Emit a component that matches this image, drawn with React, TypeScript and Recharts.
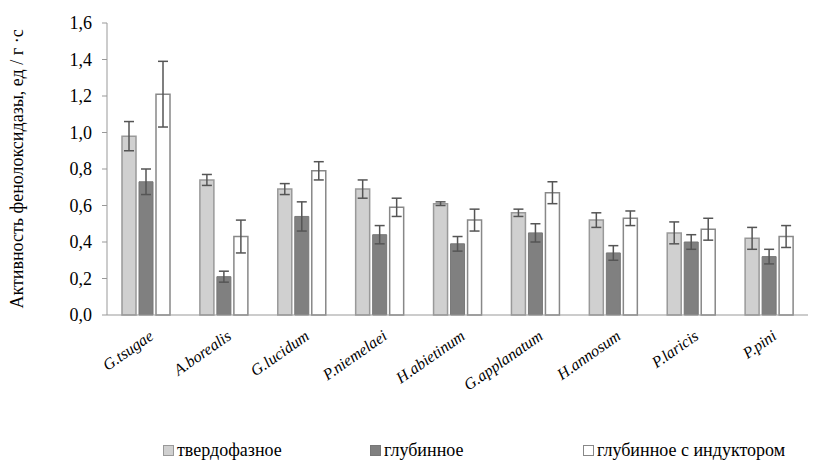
import { BarChart, Bar, XAxis, YAxis, ErrorBar, Legend, Label } from 'recharts';

const species = ['G.tsugae', 'A.borealis', 'G.lucidum', 'P.niemelaei', 'H.abietinum', 'G.applanatum', 'H.annosum', 'P.laricis', 'P.pini'];
const solid = [0.98, 0.74, 0.69, 0.69, 0.61, 0.56, 0.52, 0.45, 0.42];
const solidErr = [0.08, 0.03, 0.03, 0.05, 0.01, 0.02, 0.04, 0.06, 0.06];
const deep = [0.73, 0.21, 0.54, 0.44, 0.39, 0.45, 0.34, 0.4, 0.32];
const deepErr = [0.07, 0.03, 0.08, 0.05, 0.04, 0.05, 0.04, 0.04, 0.04];
const induced = [1.21, 0.43, 0.79, 0.59, 0.52, 0.67, 0.53, 0.47, 0.43];
const inducedErr = [0.18, 0.09, 0.05, 0.05, 0.06, 0.06, 0.04, 0.06, 0.06];
const yTicks = [0, 0.2, 0.4, 0.6, 0.8, 1.0, 1.2, 1.4, 1.6];

const seriesNames = ['твердофазное', 'глубинное', 'глубинное с индуктором'];

const data = species.map((name, i) => ({
  name,
  solid: solid[i],
  solidErr: solidErr[i],
  deep: deep[i],
  deepErr: deepErr[i],
  induced: induced[i],
  inducedErr: inducedErr[i],
}));

const font = 'Liberation Serif';

const legendItems = [
  { label: seriesNames[0], fill: '#d0d0d0', stroke: '#999', left: 163 },
  { label: seriesNames[1], fill: '#808080', stroke: '#777', left: 370 },
  { label: seriesNames[2], fill: '#fff', stroke: '#888', left: 583 },
];

const LegendBox = () => (
  <div style={{ position: 'relative', height: 36, fontFamily: font, fontSize: 18, color: '#000' }}>
    {legendItems.map((it, i) => (
      <div key={i} style={{ position: 'absolute', left: it.left, top: 17, display: 'flex', alignItems: 'center', whiteSpace: 'nowrap' }}>
        <span style={{ width: 9, height: 9, background: it.fill, border: `1px solid ${it.stroke}`, marginRight: 3, display: 'inline-block' }} />
        <span>{it.label}</span>
      </div>
    ))}
  </div>
);

const App = () => {
  return (
    <div>
      <style>{'body{margin:0;background:#fff}'}</style>
      <BarChart width={815} height={463} data={data} margin={{ top: 23, right: 7, left: 40, bottom: 4 }} barSize={14} barGap={3}>
        <XAxis
          dataKey="name"
          interval={0}
          tickLine={false}
          axisLine={{ stroke: '#999' }}
          height={108}
          angle={-35}
          textAnchor="end"
          tick={{ fontFamily: font, fontStyle: 'italic', fontSize: 16, fill: '#000', dx: 2, dy: 6 }}
        />
        <YAxis
          width={67}
          domain={[0, 1.6]}
          ticks={yTicks}
          tickFormatter={(v: number) => v.toFixed(1).replace('.', ',')}
          axisLine={{ stroke: '#999' }}
          tickLine={{ stroke: '#999' }}
          tickSize={5}
          tickMargin={10}
          tick={{ fontFamily: font, fontSize: 18, fill: '#000' }}
        >
          <Label
            value="Активность фенолоксидазы, ед / г ·с"
            angle={-90}
            position="insideLeft"
            offset={-23}
            style={{ fontFamily: font, fontSize: 18, fill: '#000', textAnchor: 'middle' }}
          />
        </YAxis>
        <Legend verticalAlign="bottom" height={36} wrapperStyle={{ left: 0, width: 815 }} content={<LegendBox />} />
        <Bar dataKey="solid" fill="#d0d0d0" stroke="#999" strokeWidth={1.5} isAnimationActive={false}>
          <ErrorBar dataKey="solidErr" width={5} stroke="#555" strokeWidth={1.5} />
        </Bar>
        <Bar dataKey="deep" fill="#808080" stroke="#777" strokeWidth={1} isAnimationActive={false}>
          <ErrorBar dataKey="deepErr" width={5} stroke="#555" strokeWidth={1.5} />
        </Bar>
        <Bar dataKey="induced" fill="#fff" stroke="#888" strokeWidth={1.5} isAnimationActive={false}>
          <ErrorBar dataKey="inducedErr" width={5} stroke="#555" strokeWidth={1.5} />
        </Bar>
      </BarChart>
    </div>
  );
};

export default App;
